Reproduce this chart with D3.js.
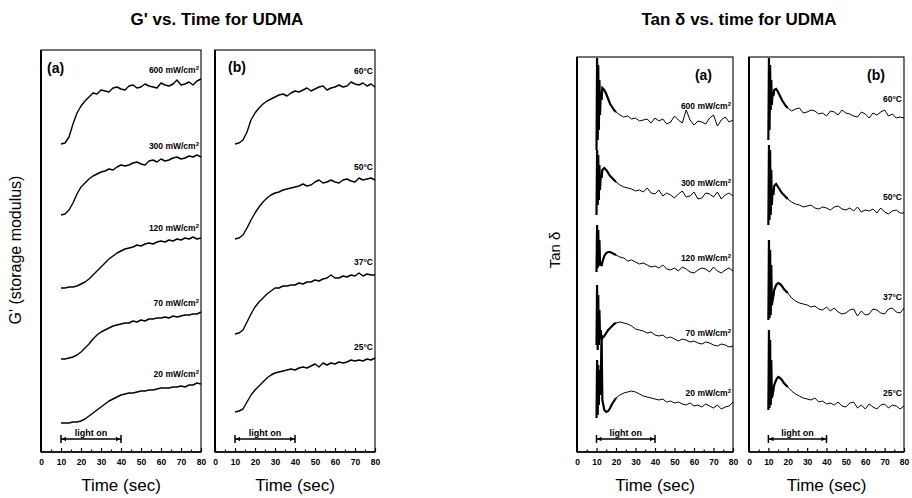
<!DOCTYPE html>
<html>
<head>
<meta charset="utf-8">
<script src="https://cdn.jsdelivr.net/npm/d3@7/dist/d3.min.js"></script>
<style>
  body { margin: 0; background: #fff; }
  svg { display: block; font-family: "Liberation Sans", Arial, sans-serif; }
</style>
</head>
<body>
<svg id="chart" width="912" height="498"></svg>
<script>
// ---- data (stacked curves, arbitrary units; offset = where each trace sits) ----
const majorTicks = [0, 10, 20, 30, 40, 50, 60, 70, 80];
const minorTicks = [5, 15, 25, 35, 45, 55, 65, 75];
const lightOn = [10, 40];

const powerLabels = ["600", "300", "120", "70", "20"];
const tempLabels = ["60°C", "50°C", "37°C", "25°C"];

// G' traces, sampled every 2 s
const gTime = [10,12,14,16,18,20,22,24,26,28,30,32,34,36,38,40,42,44,46,48,50,52,54,56,58,60,62,64,66,68,70,72,74,76,78,80];

const gPowerOffsets = [308, 237, 164, 93, 29];
const g600 = [0,1,7,20,31,38,43,47,51,50,54,53,52,56,57,55,54,58,59,56,57,60,58,57,56,61,59,58,60,64,59,60,62,59,63,65];
const g300 = [0,1,5,12,21,28,32,36,39,41,43,44,46,45,48,50,49,50,52,53,51,50,54,55,53,56,54,55,57,58,56,57,59,58,60,58];
const g120 = [0,0,1,1,2,4,6,9,13,17,21,25,29,32,35,37,39,40,41,43,42,44,45,44,46,47,46,48,47,49,48,50,49,51,49,50];
const g70  = [0,0,1,2,4,7,11,15,20,24,27,29,31,33,34,35,36,36,38,37,39,38,40,40,41,41,42,41,43,42,43,44,44,45,45,47];
const g20  = [0,0,0,1,1,2,4,7,10,13,16,19,22,24,26,28,29,30,30,31,32,32,33,33,34,35,35,35,36,36,37,36,38,38,40,39];

const gTempOffsets = [308, 213, 118, 40];
const gT60 = [0,1,4,12,24,31,36,40,43,45,47,49,50,48,51,53,52,54,56,53,55,57,58,54,56,57,59,57,58,62,60,59,61,58,60,57];
const gT50 = [0,1,4,11,19,26,32,37,41,44,46,47,49,50,51,52,53,55,53,54,57,59,56,57,59,57,56,59,60,58,57,61,59,60,61,59];
const gT37 = [0,1,4,12,20,27,32,36,40,43,46,46,48,48,49,49,51,50,52,52,54,53,55,56,59,56,56,58,57,59,58,61,58,60,59,59];
const gT25 = [0,1,3,10,17,22,26,30,34,37,39,40,41,42,43,42,44,45,44,46,48,45,49,47,49,48,50,49,50,52,51,52,51,53,52,54];

// Tan delta traces: dense at the light switch-on, then every 1-2 s
const tanTime = [10,10.3,10.6,10.9,11.2,11.5,11.8,12.2,12.6,13,14,15,16,17,18,19,20,22,24,26,28,30,32,34,36,38,40,42,44,46,48,50,52,54,56,58,60,62,64,66,68,70,72,74,76,78,80];

const tanPowerOffsets = [330, 257, 182, 109, 47];
const tan600 = [-28,64,-18,57,-8,42,7,30,22,34, 32,28,23,18,15,12,10, 7,5,6,3,4,1,2,3,-1,4,1,3,-2,0,6,2,-1,12,2,-3,1,0,-2,4,7,-4,2,5,0,2];
const tan300 = [-20,45,-10,40,-5,30,5,20,17,25, 27,25,22,19,17,15,13, 10,8,7,6,4,5,3,7,2,1,5,-1,2,0,-3,1,4,-2,-1,3,-4,-3,2,1,-2,3,-4,0,2,-1];
const tan120 = [-2,45,2,40,5,30,4,8,4,8, 14,17,18,18,17,16,15, 13,12,9,10,8,6,7,5,3,4,2,5,1,0,2,-1,3,1,-2,-3,0,2,1,-2,3,-1,-3,0,2,-1];
const tan70  = [-2,58,-7,48,-2,33,3,13,3,5, 7,10,13,15,17,19,20, 21,20,19,17,14,13,12,10,11,8,7,8,5,6,4,2,4,3,1,2,0,-1,1,0,-2,-3,-1,-2,-4,-3];
const tan20  = [-13,45,-10,40,0,35,10,25,70,5, -5,-7,-6,-3,1,4,7, 10,12,13,14,13,11,9,8,7,6,5,6,3,4,2,3,1,0,2,-1,0,-2,1,-1,-3,0,-4,-2,-1,3];

const tanTempOffsets = [337, 243, 140, 46];
const tanT60 = [-25,57,-15,50,5,35,10,23,19,25, 26,23,19,15,12,9,7, 4,6,7,2,3,5,4,1,2,-1,4,3,0,5,2,1,-1,-2,3,1,-3,2,0,3,5,-1,1,-3,-2,-3];
const tanT50 = [-16,64,-11,59,-6,39,4,19,14,23, 25,22,19,16,14,12,10, 7,5,4,2,3,4,1,0,2,1,-1,2,3,0,-1,1,-2,2,-3,-1,-2,0,-4,1,-3,-5,-2,-1,-4,-4];
const tanT37 = [-8,72,-6,62,-3,47,7,12,16,22, 27,29,28,26,23,21,19, 14,11,9,8,7,5,6,3,2,5,1,4,0,-2,-1,2,3,-4,1,-3,-2,3,2,-1,-2,3,4,0,-1,4];
const tanT25 = [-4,76,-2,66,1,46,8,11,16,21, 26,29,28,26,23,21,19, 15,12,10,8,7,6,8,4,5,2,3,1,4,0,-1,3,4,-2,1,-3,2,-1,-3,1,2,-2,1,0,-3,0];

// ---- drawing ----
const svg = d3.select("#chart");
const bottom = 452;
const y = d3.scaleLinear().domain([0, 400]).range([bottom, 52]);

function drawPanel(p) {
  const x = d3.scaleLinear().domain([0, 80]).range([p.x0, p.x1]);
  const g = svg.append("g");

  // frame
  g.append("rect")
    .attr("x", x(0)).attr("y", p.top)
    .attr("width", x(80) - x(0)).attr("height", bottom - p.top)
    .attr("fill", "none").attr("stroke", "#000").attr("stroke-width", 1.1);
  g.append("line").attr("x1", x(0)).attr("x2", x(0)).attr("y1", p.top).attr("y2", bottom)
    .attr("stroke", "#000").attr("stroke-width", 2);
  g.append("line").attr("x1", x(0)).attr("x2", x(80)).attr("y1", bottom).attr("y2", bottom)
    .attr("stroke", "#000").attr("stroke-width", 1.6);

  // x axis, ticks pointing inwards
  const ax = g.append("g").attr("transform", `translate(0,${bottom})`)
    .call(d3.axisBottom(x).tickValues(majorTicks).tickSize(-4).tickPadding(7));
  ax.select(".domain").remove();
  ax.selectAll("text").attr("font-size", 8.5).attr("font-weight", "bold").attr("font-family", null);
  ax.selectAll("line").attr("stroke-width", 1.2);
  const mx = g.append("g").attr("transform", `translate(0,${bottom})`)
    .call(d3.axisBottom(x).tickValues(minorTicks).tickSize(-2.5).tickFormat(""));
  mx.select(".domain").remove();
  mx.selectAll("line").attr("stroke-width", 1.2);

  // traces
  const line = d3.line()
    .x((d, i) => x(p.time[i]))
    .y(d => d);
  p.series.forEach((s, k) => {
    const pts = s.map(v => y(p.offsets[k] + v));
    g.append("path").attr("d", line(pts))
      .attr("fill", "none").attr("stroke", "#000")
      .attr("stroke-width", p.width).attr("stroke-linejoin", "round");
    if (p.hump) {
      const early = pts.filter((d, i) => p.time[i] <= p.hump);
      g.append("path").attr("d", line(early))
        .attr("fill", "none").attr("stroke", "#000").attr("stroke-width", 2.2);
    }
    const tail = s.slice(-8);
    const ly = y(p.offsets[k] + d3.max(tail)) - p.gap;
    const t = g.append("text")
      .attr("x", x(80) - 2).attr("y", ly)
      .attr("text-anchor", "end")
      .attr("font-size", 8.5).attr("font-weight", "bold");
    if (p.unit) {
      t.text(p.labels[k] + " mW/cm");
      t.append("tspan").attr("dy", -3).attr("font-size", 6).text("2");
    } else {
      t.text(p.labels[k]);
    }
  });

  // panel tag
  g.append("text")
    .attr("x", p.tagEnd ? x(80) - p.tagDx : x(0) + p.tagDx)
    .attr("y", p.tagY)
    .attr("text-anchor", p.tagEnd ? "end" : "start")
    .attr("font-size", 14).attr("font-weight", "bold")
    .text(p.tag);

  // light on bracket
  const by = 439;
  const lb = g.append("g").attr("stroke", "#000").attr("stroke-width", 1.5);
  lb.append("line").attr("x1", x(lightOn[0])).attr("x2", x(lightOn[1])).attr("y1", by).attr("y2", by);
  lb.append("line").attr("x1", x(lightOn[0])).attr("x2", x(lightOn[0])).attr("y1", by - 4).attr("y2", by + 4);
  lb.append("line").attr("x1", x(lightOn[1])).attr("x2", x(lightOn[1])).attr("y1", by - 4).attr("y2", by + 4);
  g.append("path")
    .attr("d", `M${x(lightOn[0]) + 1},${by} l4,-2.2 v4.4 Z M${x(lightOn[1]) - 1},${by} l-4,-2.2 v4.4 Z`)
    .attr("fill", "#000");
  g.append("text")
    .attr("x", x(25)).attr("y", by - 3)
    .attr("text-anchor", "middle")
    .attr("font-size", 9).attr("font-weight", "bold")
    .text("light on");

  // x title
  g.append("text")
    .attr("x", (x(0) + x(80)) / 2).attr("y", 491)
    .attr("text-anchor", "middle").attr("font-size", 17)
    .text("Time (sec)");
}

drawPanel({ x0: 41, x1: 201, top: 50, time: gTime, width: 1.4,
  series: [g600, g300, g120, g70, g20], offsets: gPowerOffsets,
  labels: powerLabels, unit: true, gap: 6, tag: "(a)", tagDx: 6, tagY: 73 });
drawPanel({ x0: 215, x1: 375, top: 50, time: gTime, width: 1.4,
  series: [gT60, gT50, gT37, gT25], offsets: gTempOffsets,
  labels: tempLabels, unit: false, gap: 8, tag: "(b)", tagDx: 13, tagY: 72 });
drawPanel({ x0: 577, x1: 733, top: 57, time: tanTime, width: 1, hump: 20,
  series: [tan600, tan300, tan120, tan70, tan20], offsets: tanPowerOffsets,
  labels: powerLabels, unit: true, gap: 6, tag: "(a)", tagEnd: true, tagDx: 21, tagY: 80 });
drawPanel({ x0: 749, x1: 904, top: 57, time: tanTime, width: 1, hump: 20,
  series: [tanT60, tanT50, tanT37, tanT25], offsets: tanTempOffsets,
  labels: tempLabels, unit: false, gap: 8, tag: "(b)", tagEnd: true, tagDx: 19, tagY: 80 });

// titles
svg.append("text").attr("x", 217).attr("y", 25).attr("text-anchor", "middle")
  .attr("font-size", 17).attr("font-weight", "bold").text("G' vs. Time for UDMA");
svg.append("text").attr("x", 739).attr("y", 25).attr("text-anchor", "middle")
  .attr("font-size", 17).attr("font-weight", "bold").text("Tan δ vs. time for UDMA");

// y titles
svg.append("text").attr("transform", "translate(21,250) rotate(-90)")
  .attr("text-anchor", "middle").attr("font-size", 16).text("G' (storage modulus)");
svg.append("text").attr("transform", "translate(560,250) rotate(-90)")
  .attr("text-anchor", "middle").attr("font-size", 15).text("Tan δ");
</script>
</body>
</html>
